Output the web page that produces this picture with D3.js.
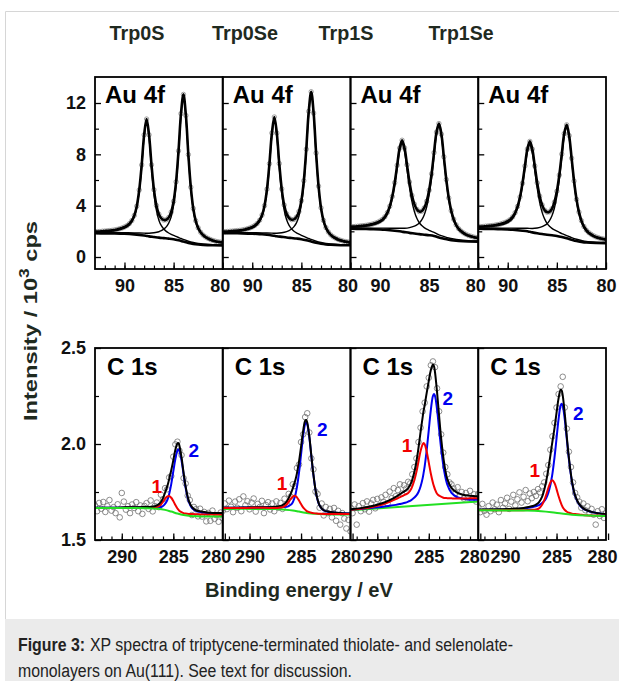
<!DOCTYPE html>
<html><head><meta charset="utf-8">
<script src="https://cdn.jsdelivr.net/npm/d3@7"></script>
<style>body{margin:0;background:#fff}svg{display:block}text{font-family:"Liberation Sans",Arial,sans-serif;white-space:pre}</style>
</head><body><svg id="c" width="619" height="681"></svg>
<script>
// ---------- categories / ticks ----------
const samples = ["Trp0S","Trp0Se","Trp1S","Trp1Se"];
const headerX = [137, 245, 346, 461];
const headerW = [55, 66, 55, 65];
const auXTicks = [90, 85, 80];
const cXTicks = [290, 285, 280];
const auYTicks = [0, 4, 8, 12];
const auYMinor = [2, 6, 10];
const cYTicks = [1.5, 2.0, 2.5];
const cYMinor = [1.75, 2.25];

// ---------- Au 4f data (binding energy / eV, intensity / 10^3 cps) ----------
const auE = [93,92.75,92.5,92.25,92,91.75,91.5,91.25,91,90.75,90.5,90.25,90,89.75,89.5,89.25,89,88.75,88.5,88.25,88,87.75,87.5,87.25,87,86.75,86.5,86.25,86,85.75,85.5,85.25,85,84.75,84.5,84.25,84,83.75,83.5,83.25,83,82.75,82.5,82.25,82,81.75,81.5,81.25,81,80.75,80.5,80.25,80];
const auMeas0S  = [1.97,1.98,1.99,2.01,2.02,2.04,2.06,2.08,2.11,2.15,2.20,2.26,2.34,2.44,2.60,2.84,3.24,3.96,5.22,7.17,9.52,10.75,9.52,7.18,5.24,4.01,3.33,3.01,2.88,2.90,3.08,3.50,4.34,5.86,8.27,11.17,12.67,11.03,7.98,5.44,3.78,2.82,2.27,1.93,1.71,1.56,1.45,1.36,1.29,1.23,1.19,1.16,1.13];
const auMeas0Se = [1.97,1.98,1.99,2.01,2.02,2.04,2.06,2.08,2.11,2.15,2.20,2.26,2.34,2.45,2.61,2.86,3.27,4.00,5.28,7.27,9.66,10.91,9.66,7.28,5.31,4.05,3.36,3.04,2.91,2.93,3.11,3.54,4.39,5.94,8.40,11.35,12.88,11.21,8.10,5.52,3.83,2.85,2.29,1.95,1.72,1.57,1.46,1.37,1.30,1.24,1.20,1.17,1.14];
const auMeas1S  = [2.36,2.37,2.38,2.40,2.42,2.44,2.46,2.49,2.53,2.57,2.63,2.70,2.80,2.93,3.14,3.46,3.96,4.71,5.79,7.15,8.49,9.10,8.50,7.18,5.84,4.80,4.12,3.71,3.54,3.57,3.82,4.34,5.20,6.48,8.13,9.73,10.40,9.57,7.81,6.03,4.60,3.61,2.94,2.50,2.21,2.02,1.88,1.77,1.68,1.62,1.56,1.52,1.49];
const auMeas1Se = [2.36,2.37,2.38,2.40,2.42,2.44,2.46,2.49,2.53,2.57,2.63,2.70,2.79,2.92,3.13,3.45,3.94,4.68,5.75,7.09,8.41,9.01,8.41,7.10,5.77,4.74,4.06,3.65,3.49,3.52,3.76,4.27,5.12,6.39,8.02,9.62,10.30,9.46,7.70,5.92,4.49,3.50,2.83,2.38,2.09,1.90,1.76,1.65,1.56,1.50,1.44,1.40,1.37];

// Au 4f5/2 component (+background)
const auP1E = [93,91,90,89.5,89,88.5,88.25,88,87.75,87.5,87.25,87,86.75,86.5,86.25,86,85.75,85.5,85.25,85,84.75,84.5,84.25,84,83.5,83,82.5,82,81,80];
const auP1_0S  = [1.94,2.05,2.25,2.50,3.12,5.08,7.01,9.33,10.54,9.27,6.90,4.92,3.63,2.87,2.44,2.18,2.00,1.87,1.77,1.68,1.60,1.52,1.44,1.37,1.23,1.13,1.06,1.01,0.96,0.94];
const auP1_0Se = [1.94,2.05,2.26,2.51,3.15,5.13,7.10,9.46,10.69,9.40,6.99,4.97,3.66,2.90,2.46,2.19,2.01,1.88,1.78,1.69,1.60,1.52,1.44,1.37,1.23,1.13,1.06,1.01,0.96,0.94];
const auP1_1S  = [2.31,2.45,2.69,3.01,3.81,5.60,6.94,8.26,8.83,8.20,6.83,5.43,4.33,3.55,3.02,2.67,2.45,2.29,2.17,2.08,1.99,1.92,1.82,1.73,1.60,1.48,1.40,1.34,1.28,1.25];
const auP1_1Se = [2.31,2.44,2.68,3.00,3.78,5.56,6.89,8.18,8.74,8.10,6.75,5.36,4.26,3.48,2.97,2.62,2.39,2.23,2.11,2.01,1.92,1.83,1.75,1.67,1.51,1.38,1.29,1.22,1.16,1.13];
// Au 4f7/2 component (+background)
const auP2E = [93,91,90,89,88.5,88,87.5,87,86.5,86.25,86,85.75,85.5,85.25,85,84.75,84.5,84.25,84,83.75,83.5,83.25,83,82.75,82.5,82,81.5,81,80.5,80];
const auP2_0S  = [1.89,1.89,1.89,1.88,1.87,1.86,1.85,1.89,1.97,2.05,2.17,2.35,2.64,3.13,4.04,5.60,8.05,10.98,12.50,10.88,7.85,5.32,3.68,2.72,2.18,1.64,1.39,1.24,1.15,1.09];
const auP2_0Se = [1.89,1.89,1.89,1.88,1.87,1.86,1.85,1.89,1.98,2.06,2.18,2.37,2.66,3.17,4.08,5.68,8.17,11.15,12.70,11.05,7.97,5.40,3.72,2.76,2.20,1.65,1.40,1.24,1.15,1.09];
const auP2_1S  = [2.25,2.25,2.25,2.24,2.24,2.24,2.24,2.29,2.40,2.50,2.65,2.89,3.28,3.89,4.82,6.16,7.86,9.49,10.19,9.38,7.65,5.88,4.47,3.49,2.83,2.12,1.80,1.62,1.51,1.44];
const auP2_1Se = [2.25,2.25,2.25,2.24,2.24,2.24,2.22,2.26,2.36,2.46,2.60,2.84,3.22,3.82,4.75,6.07,7.75,9.38,10.09,9.27,7.54,5.77,4.36,3.37,2.71,1.99,1.68,1.50,1.39,1.32];
// Au background
const auBgE = [93,92,91,90,89.5,89,88.5,88,87.75,87.5,87,86.5,86,85.5,85,84.5,84,83.5,83,82.5,82,81,80];
const auBg0S  = [1.85,1.84,1.83,1.81,1.79,1.76,1.72,1.67,1.64,1.61,1.56,1.51,1.47,1.43,1.38,1.30,1.20,1.10,1.02,0.97,0.94,0.91,0.90];
const auBg0Se = [1.86,1.85,1.84,1.82,1.80,1.77,1.73,1.68,1.65,1.62,1.57,1.52,1.48,1.44,1.39,1.31,1.21,1.11,1.03,0.98,0.95,0.92,0.91];
const auBg1S  = [2.20,2.19,2.17,2.14,2.12,2.09,2.05,2.00,1.97,1.94,1.88,1.83,1.78,1.74,1.70,1.64,1.52,1.43,1.35,1.29,1.25,1.21,1.20];
const auBg1Se = [2.20,2.19,2.17,2.14,2.12,2.09,2.05,2.00,1.96,1.92,1.85,1.79,1.74,1.69,1.64,1.56,1.46,1.35,1.25,1.18,1.13,1.09,1.08];

// ---------- C 1s data ----------
const cE = [292.6,292.4,292.2,292.0,291.8,291.6,291.4,291.2,291.0,290.8,290.6,290.4,290.2,290.0,289.8,289.6,289.4,289.2,289.0,288.8,288.6,288.4,288.2,288.0,287.8,287.6,287.4,287.2,287.0,286.8,286.6,286.4,286.2,286.0,285.8,285.6,285.4,285.2,285.0,284.8,284.6,284.4,284.2,284.0,283.8,283.6,283.4,283.2,283.0,282.8,282.6,282.4,282.2,282.0,281.8,281.6,281.4,281.2,281.0,280.8,280.6,280.4,280.2];
const cMeas0S  = [1.680,1.650,1.693,1.663,1.698,1.646,1.676,1.708,1.653,1.671,1.640,1.686,1.618,1.745,1.700,1.658,1.676,1.640,1.685,1.667,1.697,1.650,1.680,1.636,1.677,1.692,1.662,1.706,1.649,1.677,1.695,1.671,1.736,1.712,1.770,1.764,1.826,1.833,1.934,1.998,2.012,1.965,1.942,1.822,1.794,1.731,1.708,1.630,1.672,1.660,1.623,1.663,1.622,1.646,1.597,1.641,1.600,1.653,1.610,1.629,1.595,1.643,1.614];
const cMeas0Se = [1.652,1.690,1.661,1.705,1.673,1.645,1.700,1.668,1.712,1.650,1.727,1.681,1.702,1.660,1.695,1.716,1.648,1.688,1.672,1.704,1.640,1.682,1.697,1.659,1.690,1.650,1.701,1.668,1.693,1.662,1.715,1.688,1.740,1.726,1.790,1.781,1.875,1.893,2.010,2.050,2.140,2.160,2.060,1.925,1.868,1.752,1.740,1.668,1.690,1.628,1.672,1.640,1.662,1.618,1.667,1.600,1.652,1.580,1.640,1.612,1.560,1.605,1.545];
const cMeas1S  = [1.668,1.640,1.685,1.580,1.676,1.650,1.692,1.660,1.701,1.648,1.690,1.709,1.665,1.714,1.680,1.722,1.699,1.735,1.690,1.752,1.718,1.770,1.728,1.760,1.790,1.742,1.785,1.768,1.803,1.795,1.842,1.880,1.925,2.010,2.085,2.170,2.215,2.300,2.345,2.410,2.430,2.400,2.290,2.170,2.050,1.955,1.880,1.842,1.800,1.790,1.768,1.745,1.775,1.730,1.750,1.716,1.745,1.722,1.756,1.712,1.738,1.700,1.740];
const cMeas1Se = [1.670,1.645,1.688,1.652,1.632,1.676,1.650,1.695,1.660,1.684,1.645,1.708,1.668,1.690,1.720,1.662,1.700,1.735,1.680,1.712,1.748,1.695,1.725,1.760,1.702,1.742,1.718,1.750,1.730,1.765,1.748,1.780,1.800,1.845,1.890,1.970,2.040,2.110,2.190,2.260,2.300,2.350,2.190,2.080,1.960,1.880,1.800,1.745,1.722,1.700,1.668,1.690,1.655,1.675,1.640,1.662,1.632,1.580,1.650,1.625,1.660,1.615,1.640];

const cFitE = [292.6,291.6,290.6,289.6,288.8,288.2,287.7,287.3,287.0,286.7,286.4,286.2,286.0,285.8,285.6,285.5,285.4,285.2,285.0,284.8,284.6,284.5,284.4,284.2,284.0,283.8,283.5,283.2,282.8,282.3,281.7,281.0,280.2];
const cSum0S   = [1.668,1.668,1.668,1.670,1.670,1.671,1.672,1.672,1.674,1.678,1.687,1.698,1.718,1.746,1.778,1.796,1.817,1.863,1.915,1.970,2.003,2.005,1.990,1.930,1.850,1.778,1.705,1.672,1.655,1.648,1.643,1.641,1.640];
const cPk1_0S  = [1.667,1.667,1.667,1.668,1.668,1.668,1.668,1.667,1.668,1.670,1.677,1.685,1.699,1.715,1.726,1.728,1.729,1.720,1.703,1.682,1.664,1.658,1.651,1.645,1.640,1.638,1.636,1.635,1.634,1.633,1.633,1.632,1.632];
const cPk2_0S  = [1.668,1.668,1.668,1.669,1.669,1.670,1.670,1.670,1.670,1.671,1.671,1.672,1.677,1.688,1.706,1.720,1.739,1.791,1.857,1.922,1.966,1.972,1.963,1.914,1.842,1.771,1.700,1.668,1.652,1.645,1.641,1.639,1.638];
const cSum0Se  = [1.668,1.668,1.669,1.670,1.671,1.671,1.672,1.674,1.677,1.684,1.699,1.718,1.741,1.769,1.803,1.823,1.847,1.908,1.985,2.067,2.121,2.125,2.112,2.042,1.940,1.842,1.734,1.680,1.655,1.647,1.643,1.639,1.638];
const cPk1_0Se = [1.667,1.667,1.667,1.668,1.668,1.667,1.667,1.667,1.669,1.673,1.685,1.699,1.714,1.726,1.730,1.727,1.722,1.706,1.687,1.670,1.658,1.653,1.649,1.645,1.642,1.640,1.638,1.637,1.636,1.636,1.636,1.635,1.635];
const cPk2_0Se = [1.668,1.668,1.669,1.669,1.670,1.670,1.670,1.671,1.671,1.672,1.673,1.677,1.683,1.697,1.725,1.747,1.775,1.850,1.944,2.041,2.105,2.113,2.103,2.036,1.936,1.839,1.732,1.679,1.654,1.646,1.642,1.639,1.638];
const cSum1S   = [1.660,1.666,1.676,1.690,1.708,1.725,1.742,1.756,1.770,1.799,1.855,1.909,1.980,2.062,2.139,2.175,2.202,2.268,2.329,2.385,2.414,2.406,2.375,2.271,2.147,2.029,1.897,1.817,1.771,1.748,1.736,1.730,1.727];
const cPk1_1S  = [1.657,1.663,1.671,1.684,1.699,1.713,1.726,1.736,1.745,1.767,1.812,1.855,1.909,1.963,1.998,2.005,1.999,1.960,1.903,1.845,1.798,1.780,1.764,1.741,1.731,1.726,1.719,1.718,1.717,1.716,1.716,1.717,1.718];
const cPk2_1S  = [1.658,1.662,1.667,1.672,1.678,1.683,1.689,1.694,1.700,1.708,1.721,1.732,1.750,1.779,1.821,1.851,1.884,1.970,2.074,2.178,2.250,2.260,2.251,2.180,2.077,1.975,1.858,1.788,1.745,1.724,1.715,1.710,1.709];
const cSum1Se  = [1.658,1.659,1.660,1.661,1.664,1.667,1.672,1.677,1.684,1.697,1.726,1.760,1.807,1.869,1.940,1.978,2.013,2.083,2.163,2.239,2.283,2.279,2.253,2.157,2.035,1.928,1.806,1.733,1.687,1.661,1.648,1.640,1.635];
const cPk1_1Se = [1.655,1.656,1.655,1.655,1.655,1.655,1.656,1.657,1.659,1.665,1.684,1.706,1.736,1.771,1.800,1.809,1.811,1.797,1.765,1.728,1.696,1.682,1.671,1.656,1.647,1.642,1.637,1.635,1.633,1.629,1.628,1.627,1.626];
const cPk2_1Se = [1.658,1.658,1.659,1.660,1.662,1.665,1.668,1.672,1.676,1.682,1.692,1.703,1.719,1.745,1.786,1.814,1.846,1.929,2.029,2.131,2.201,2.210,2.199,2.127,2.023,1.920,1.801,1.729,1.684,1.659,1.647,1.639,1.634];
// C 1s backgrounds
const cBgE0S  = [292.6,289,287.5,286.5,285.8,285.2,284.6,284.0,283.3,282.5,280.2];
const cBg0S   = [1.667,1.667,1.666,1.663,1.657,1.648,1.638,1.630,1.625,1.623,1.622];
const cBgE0Se = [292.6,289,287.5,286.5,285.8,285.2,284.6,284.0,283.3,282.5,280.2];
const cBg0Se  = [1.662,1.662,1.661,1.658,1.654,1.648,1.642,1.638,1.636,1.634,1.633];
const cBgE1S  = [292.6,280.2];
const cBg1S   = [1.655,1.700];
const cBgE1Se = [292.6,288,286.5,285.5,284.5,283.5,282,280.2];
const cBg1Se  = [1.655,1.653,1.650,1.645,1.638,1.632,1.627,1.625];
// peak label anchors [BE, intensity]
const cLabel1 = [[286.6,1.745],[286.85,1.76],[287.1,1.958],[287.1,1.828]];
const cLabel2 = [[283.0,1.932],[282.95,2.042],[283.15,2.203],[282.9,2.125]];

// ---------- build ----------
const auPanels = [
  {meas:auMeas0S,p1:auP1_0S,p2:auP2_0S,bg:auBg0S},
  {meas:auMeas0Se,p1:auP1_0Se,p2:auP2_0Se,bg:auBg0Se},
  {meas:auMeas1S,p1:auP1_1S,p2:auP2_1S,bg:auBg1S},
  {meas:auMeas1Se,p1:auP1_1Se,p2:auP2_1Se,bg:auBg1Se}
];
const cPanels = [
  {meas:cMeas0S,sum:cSum0S,pk1:cPk1_0S,pk2:cPk2_0S,bgE:cBgE0S,bg:cBg0S,order:["blue","red","black","green"]},
  {meas:cMeas0Se,sum:cSum0Se,pk1:cPk1_0Se,pk2:cPk2_0Se,bgE:cBgE0Se,bg:cBg0Se,order:["green","blue","black","red"]},
  {meas:cMeas1S,sum:cSum1S,pk1:cPk1_1S,pk2:cPk2_1S,bgE:cBgE1S,bg:cBg1S,order:["green","blue","red","black"]},
  {meas:cMeas1Se,sum:cSum1Se,pk1:cPk1_1Se,pk2:cPk2_1Se,bgE:cBgE1Se,bg:cBg1Se,order:["blue","black","red","green"]}
];

const svg = d3.select("#c");
const FONT = '"Liberation Sans", Arial, sans-serif';
const L0 = 95, PW = 127.75;
const rows = [{top:77, bot:269}, {top:348, bot:540}];
const yAu = d3.scaleLinear().domain([-0.935, 14.026]).range([rows[0].bot, rows[0].top]);
const yC  = d3.scaleLinear().domain([1.5, 2.5]).range([rows[1].bot, rows[1].top]);
const COL = {red:"#f20000", blue:"#0000f0", green:"#22e022", black:"#000"};

// outer figure frame + caption
svg.append("line").attr("x1",5.5).attr("y1",11.5).attr("x2",619).attr("y2",11.5).attr("stroke","#d6d6d6");
svg.append("line").attr("x1",5.5).attr("y1",11.5).attr("x2",5.5).attr("y2",681).attr("stroke","#d6d6d6");
svg.append("rect").attr("x",5).attr("y",619).attr("width",614).attr("height",62).attr("fill","#ebebeb");

const defs = svg.append("defs");
function clip(id, r, i){
  defs.append("clipPath").attr("id",id).append("rect")
    .attr("x",L0+i*PW).attr("y",rows[r].top).attr("width",PW).attr("height",rows[r].bot-rows[r].top);
  return `url(#${id})`;
}

function axes(r, i, x, y, xMajor, xMinor, yMajor, yMinor, yFmt, lastDx){
  const bot = rows[r].bot, left = L0 + i*PW;
  const gm = svg.append("g").attr("transform",`translate(0,${bot})`)
    .call(d3.axisBottom(x).tickValues(xMinor).tickSize(-3.5).tickFormat(""));
  gm.select(".domain").remove();
  const gx = svg.append("g").attr("transform",`translate(0,${bot})`)
    .attr("color","#000")
    .call(d3.axisBottom(x).tickValues(xMajor).tickSizeInner(-6.5).tickSizeOuter(0).tickPadding(10).tickFormat(d3.format("d")));
  gx.select(".domain").remove();
  gx.attr("font-family",FONT).attr("font-size",18).attr("font-weight","bold");
  gx.selectAll(".tick text").attr("fill","#111").attr("dx",(d)=> d===xMajor[2] ? lastDx[i] : 0);
  gx.selectAll("line").attr("stroke-width",1.3);
  gm.selectAll("line").attr("stroke-width",1.2);
  const gym = svg.append("g").attr("transform",`translate(${left},0)`)
    .call(d3.axisLeft(y).tickValues(yMinor).tickSize(-4).tickFormat(""));
  gym.select(".domain").remove();
  gym.selectAll("line").attr("stroke-width",1.2);
  const gy = svg.append("g").attr("transform",`translate(${left},0)`).attr("color","#000")
    .call(d3.axisLeft(y).tickValues(yMajor).tickSizeInner(-6).tickSizeOuter(0).tickPadding(9).tickFormat(i===0 ? yFmt : ""));
  gy.select(".domain").remove();
  gy.selectAll("line").attr("stroke-width",1.3);
  gy.attr("font-family",FONT).attr("font-size",18).attr("font-weight","bold");
  gy.selectAll("text").attr("fill","#111");
  svg.append("rect").attr("x",left).attr("y",rows[r].top).attr("width",PW).attr("height",rows[r].bot-rows[r].top)
    .attr("fill","none").attr("stroke","#000").attr("stroke-width",1.8);
}

const smooth = d3.curveCatmullRom.alpha(0.5);

// ---------- Au 4f row ----------
auPanels.forEach((d,i)=>{
  const x = d3.scaleLinear().domain([93,80]).range([L0+i*PW, L0+(i+1)*PW]);
  const g = svg.append("g").attr("clip-path", clip(`ca${i}`,0,i));
  const line = (xs) => d3.line().x((v,k)=>x(xs[k])).y(v=>yAu(v)).curve(smooth);
  g.selectAll("circle").data(d.meas).join("circle")
    .attr("cx",(v,k)=>x(auE[k])).attr("cy",v=>yAu(v)).attr("r",2.2)
    .attr("fill","none").attr("stroke","#8c8c8c").attr("stroke-width",0.8);
  g.append("path").attr("d",line(auBgE)(d.bg)).attr("fill","none").attr("stroke","#000").attr("stroke-width",2.6);
  g.append("path").attr("d",line(auP1E)(d.p1)).attr("fill","none").attr("stroke","#000").attr("stroke-width",1.4);
  g.append("path").attr("d",line(auP2E)(d.p2)).attr("fill","none").attr("stroke","#000").attr("stroke-width",1.4);
  g.append("path").attr("d",line(auE)(d.meas)).attr("fill","none").attr("stroke","#000").attr("stroke-width",2.6);
  axes(0,i,x,yAu,auXTicks,d3.range(81,93),auYTicks,auYMinor,d3.format("d"),[-3,-3,-3,0]);
  svg.append("text").attr("x",L0+i*PW+10).attr("y",103).attr("font-family",FONT)
    .attr("font-size",24).attr("font-weight","bold").attr("fill","#000").text("Au 4f");
});

// ---------- C 1s row ----------
cPanels.forEach((d,i)=>{
  const x = d3.scaleLinear().domain([292.6,280.2]).range([L0+i*PW, L0+(i+1)*PW]);
  const g = svg.append("g").attr("clip-path", clip(`cc${i}`,1,i));
  const line = (xs) => d3.line().x((v,k)=>x(xs[k])).y(v=>yC(v)).curve(smooth);
  g.selectAll("circle").data(d.meas).join("circle")
    .attr("cx",(v,k)=>x(cE[k])).attr("cy",v=>yC(v)).attr("r",2.8)
    .attr("fill","none").attr("stroke","#707070").attr("stroke-width",0.8);
  const paths = {
    green: line(d.bgE)(d.bg),
    blue: line(cFitE)(d.pk2),
    red: line(cFitE)(d.pk1),
    black: line(cFitE)(d.sum)
  };
  d.order.forEach(k=>{
    g.append("path").attr("d",paths[k]).attr("fill","none").attr("stroke",COL[k]).attr("stroke-width",2);
  });
  axes(1,i,x,yC,cXTicks,d3.range(281,293),cYTicks,cYMinor,d3.format(".1f"),[-9,-7,-6,-6]);
  svg.append("text").attr("x",L0+i*PW+12).attr("y",375).attr("font-family",FONT)
    .attr("font-size",24).attr("font-weight","bold").attr("fill","#000").text("C 1s");
  svg.append("text").attr("x",x(cLabel1[i][0])).attr("y",yC(cLabel1[i][1])).attr("text-anchor","middle")
    .attr("font-family",FONT).attr("font-size",19).attr("font-weight","bold").attr("fill",COL.red).text("1");
  svg.append("text").attr("x",x(cLabel2[i][0])).attr("y",yC(cLabel2[i][1])).attr("text-anchor","middle")
    .attr("font-family",FONT).attr("font-size",19).attr("font-weight","bold").attr("fill",COL.blue).text("2");
});

// ---------- headers & titles ----------
samples.forEach((s,i)=>{
  svg.append("text").attr("x",headerX[i]).attr("y",40).attr("text-anchor","middle")
    .attr("font-family",FONT).attr("font-size",20).attr("font-weight","bold").attr("fill","#1f2a1f")
    .attr("textLength",headerW[i]).attr("lengthAdjust","spacingAndGlyphs").text(s);
});
svg.append("text").attr("x",299).attr("y",597).attr("text-anchor","middle")
  .attr("font-family",FONT).attr("font-size",20).attr("font-weight","bold").attr("fill","#1f2a1f")
  .attr("textLength",188).attr("lengthAdjust","spacingAndGlyphs").text("Binding energy / eV");
const yt = svg.append("text").attr("transform","translate(37,321) rotate(-90)").attr("text-anchor","middle")
  .attr("font-family",FONT).attr("font-size",19).attr("font-weight","bold").attr("fill","#1f2a1f")
  .attr("textLength",200).attr("lengthAdjust","spacingAndGlyphs");
yt.append("tspan").text("Intensity / 10");
yt.append("tspan").attr("dy",-8).attr("font-size",14).text("3");
yt.append("tspan").attr("dy",8).text(" cps");

// ---------- caption ----------
svg.append("text").attr("x",18).attr("y",651).attr("font-family",FONT).attr("font-size",18)
  .attr("font-weight","bold").attr("fill","#222").attr("textLength",67).attr("lengthAdjust","spacingAndGlyphs")
  .text("Figure 3:");
svg.append("text").attr("x",90).attr("y",651).attr("font-family",FONT).attr("font-size",18)
  .attr("fill","#222").attr("textLength",423).attr("lengthAdjust","spacingAndGlyphs")
  .text("XP spectra of triptycene-terminated thiolate- and selenolate-");
svg.append("text").attr("x",18).attr("y",677).attr("font-family",FONT).attr("font-size",18)
  .attr("fill","#222").attr("textLength",334).attr("lengthAdjust","spacingAndGlyphs")
  .text("monolayers on Au(111). See text for discussion.");
</script></body></html>
